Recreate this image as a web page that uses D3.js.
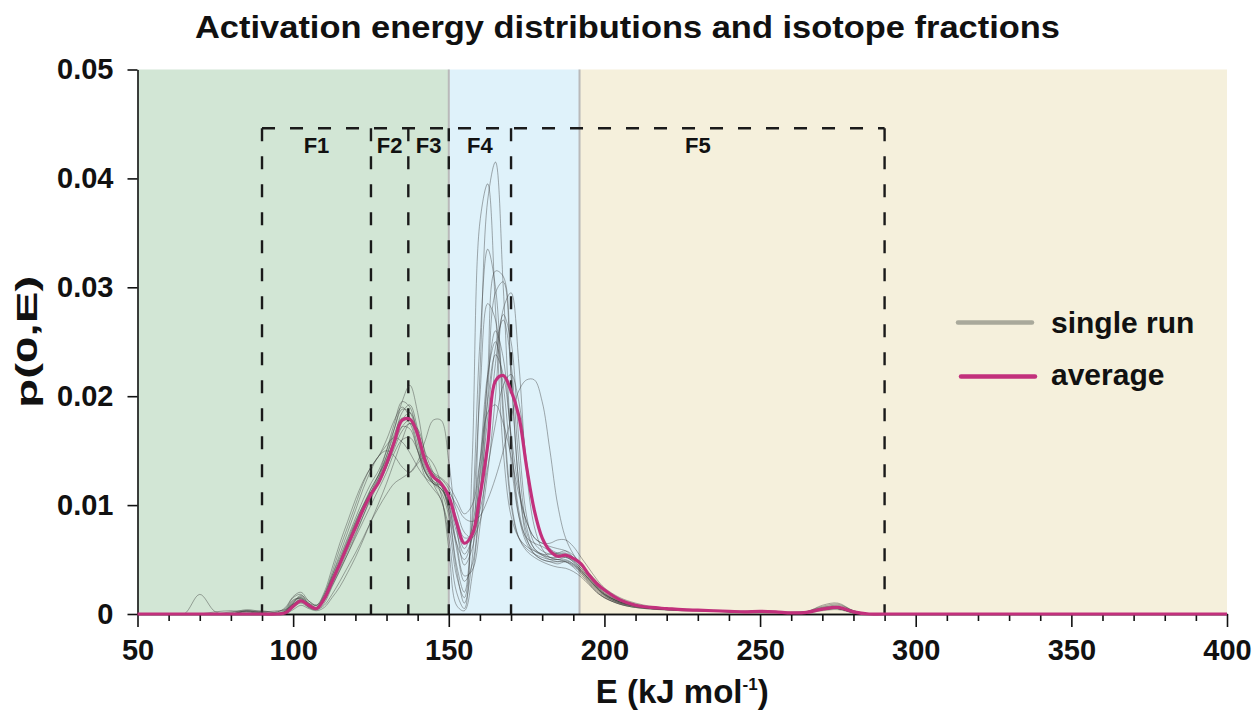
<!DOCTYPE html>
<html lang="en">
<head>
<meta charset="utf-8">
<title>Activation energy distributions and isotope fractions</title>
<script src="https://cdn.jsdelivr.net/npm/d3@7/dist/d3.min.js"></script>
<style>
  body { margin: 0; background: #fff; }
  svg text { font-family: "Liberation Sans", Arial, sans-serif; font-weight: bold; fill: #111; }
  .axis path, .axis line { stroke: #111; stroke-width: 1.6px; }
  .axis text { font-size: 29px; }
  .run { fill: none; stroke: #3a3a3a; stroke-width: 1; stroke-opacity: 0.42; }
  .avg { fill: none; stroke: #c2307c; stroke-width: 3.2; }
  .frac { stroke: #1a1a1a; stroke-width: 2.4; stroke-dasharray: 13 15; fill: none; }
  .border { stroke: #b9b9b9; stroke-width: 2; }
</style>
</head>
<body>
<div id="chart"></div>
<script>
// energy grid (kJ/mol) shared by all curves
var energy = [50, 60, 65, 70, 75, 80, 85, 90,
  95, 97.5, 100, 102.5, 105, 107.5, 110, 112.5, 115, 117.5, 120, 122.5, 125, 127.5, 130, 132.5,
  135, 137.5, 140, 142.5, 145, 147.5, 150, 152.5, 155, 157.5, 160, 162.5, 165, 167.5, 170, 172.5,
  175, 177.5, 180, 182.5, 185, 187.5, 190, 192.5, 195, 197.5, 200,
  205, 210, 215, 220, 225, 230, 235, 240, 245, 250, 255, 260, 265, 270, 275, 280, 285,
  290, 400];

// p(0,E) values in units of 1e-3
var unit = 1e-3;

var average = [0,0,0,0,0,0,0,0,
  0,0.1,0.7,1.2,0.8,0.5,1.4,3.0,4.6,6.3,7.9,9.6,11.0,12.1,13.8,15.8,
  17.8,17.9,16.5,14.0,12.6,12.0,10.8,8.4,6.5,7.3,10.8,15.5,21.4,21.9,20.5,18.2,
  13.5,9.5,7.0,5.8,5.3,5.4,5.1,4.6,3.6,2.8,2.2,
  1.3,0.8,0.6,0.5,0.4,0.35,0.3,0.25,0.2,0.25,0.2,0.1,0.15,0.45,0.6,0.2,0,
  0,0];

var run01 = [0,0,0,0,0,0,0.2,0,
  0.2,0.5,1.5,1.8,0.9,0.6,1.8,3.5,5.2,7.0,8.8,10.5,12.0,13.2,15.0,17.0,
  18.8,18.5,16.0,13.2,12.0,11.2,9.0,4.0,1.0,5.0,22.0,38.0,41.5,30.0,16.0,9.0,
  6.5,5.5,5.0,4.8,4.6,4.8,4.4,3.8,3.0,2.2,1.6,
  1.0,0.7,0.5,0.4,0.35,0.3,0.3,0.2,0.2,0.3,0.2,0.1,0.2,0.6,0.7,0.2,0,
  0,0];
var run02 = [0,0,0,0,0,0,0,0,
  0,0.3,1.2,1.5,0.7,0.5,1.5,3.2,4.8,6.5,8.2,9.8,11.5,12.8,14.5,16.5,
  18.0,17.5,15.0,12.5,11.5,10.5,7.0,2.0,0.5,14.0,36.0,39.5,28.0,15.0,9.0,7.0,
  6.2,5.8,5.5,5.2,5.0,4.8,4.3,3.6,2.8,2.0,1.5,
  0.9,0.6,0.5,0.4,0.3,0.3,0.25,0.2,0.2,0.2,0.15,0.1,0.15,0.5,0.5,0.1,0,
  0,0];
var run03 = [0,0,0,0,0,0.2,0.3,0.1,
  0,0.2,1.0,1.6,1.0,0.6,1.2,2.8,4.5,6.2,8.0,9.5,11.0,12.2,14.0,16.2,
  18.5,19.2,17.0,14.0,12.5,11.8,10.0,6.0,3.0,4.5,11.0,22.0,31.5,31.0,22.0,12.0,
  7.5,6.0,5.5,5.5,5.6,5.8,5.4,4.6,3.6,2.6,1.9,
  1.1,0.8,0.6,0.5,0.4,0.35,0.3,0.25,0.2,0.2,0.2,0.15,0.2,0.4,0.5,0.2,0,
  0,0];
var run04 = [0,0,0,0,0,0,0,0,
  0,0,0.8,1.2,0.6,0.4,1.0,2.5,4.0,5.5,7.2,9.0,10.8,12.5,14.5,17.0,
  19.5,21.0,18.5,14.5,12.0,10.5,8.0,3.5,1.5,8.0,20.0,28.5,27.0,18.0,10.0,7.0,
  6.0,5.5,5.2,5.0,5.0,5.0,4.6,3.8,2.9,2.1,1.5,
  0.9,0.6,0.45,0.4,0.35,0.3,0.25,0.2,0.2,0.25,0.2,0.1,0.1,0.3,0.4,0.1,0,
  0,0];
var run05 = [0,0,0,0,0.2,0.3,0.2,0.3,
  0.1,0.4,1.3,1.4,0.8,0.6,1.6,3.3,5.0,6.8,8.5,10.0,11.2,12.0,13.5,15.5,
  17.2,17.8,16.5,14.0,12.8,12.4,11.5,9.5,7.5,7.0,8.5,13.0,20.0,28.0,29.5,23.0,
  13.0,8.0,6.0,5.2,5.0,5.2,4.9,4.2,3.3,2.5,1.8,
  1.1,0.7,0.55,0.45,0.4,0.35,0.3,0.25,0.2,0.3,0.25,0.1,0.2,0.6,0.8,0.3,0,
  0,0];
var run06 = [0,0,0,0,0,0,0,0,
  0,0.2,0.9,1.2,0.8,0.6,1.3,2.6,4.0,5.5,7.0,8.5,10.0,11.5,13.0,14.8,
  16.0,16.2,15.0,13.0,12.0,11.8,11.2,10.0,8.8,8.5,9.0,10.5,12.5,15.0,18.0,20.5,
  21.5,21.5,19.5,15.0,10.0,7.0,5.5,4.5,3.8,3.0,2.3,
  1.4,0.9,0.6,0.5,0.4,0.35,0.3,0.25,0.25,0.3,0.2,0.15,0.2,0.4,0.5,0.2,0,
  0,0];
var run07 = [0,0,0,0,0,0,0.3,0.1,
  0,0.1,0.8,1.4,0.9,0.5,1.5,3.5,5.5,7.5,9.5,11.5,13.2,14.5,15.0,14.5,
  13.5,13.0,13.8,14.5,13.8,12.0,9.5,6.5,5.0,7.0,12.5,19.5,23.8,22.0,16.5,11.5,
  8.5,7.0,6.5,6.2,6.0,5.8,5.2,4.4,3.5,2.6,1.9,
  1.2,0.8,0.6,0.5,0.4,0.35,0.3,0.25,0.2,0.2,0.2,0.1,0.15,0.5,0.6,0.2,0,
  0,0];
var run08 = [0,0,0,0,0,0,0,0,
  0,0,0.6,1.0,0.6,0.4,0.8,1.8,3.0,4.3,5.6,7.0,8.5,9.8,11.0,12.0,
  12.5,13.0,14.0,16.0,17.8,17.8,14.0,8.0,4.5,6.0,11.0,18.0,24.5,27.0,23.0,14.0,
  8.0,6.0,5.4,5.0,4.8,4.8,4.5,3.9,3.1,2.3,1.7,
  1.0,0.7,0.5,0.45,0.4,0.35,0.3,0.2,0.2,0.25,0.2,0.1,0.15,0.4,0.5,0.15,0,
  0,0];
var run09 = [0,0,0,0,0,0.1,0.4,0.2,
  0,0.3,1.1,1.7,1.2,0.8,1.8,3.8,6.0,8.0,10.0,12.0,13.5,14.5,15.5,16.2,
  15.8,14.8,13.5,12.5,12.0,11.5,10.5,8.0,6.0,8.0,14.0,22.0,25.0,21.0,14.0,9.0,
  7.0,6.5,6.2,5.8,5.5,5.3,4.8,4.0,3.2,2.4,1.8,
  1.1,0.8,0.55,0.45,0.4,0.35,0.3,0.25,0.2,0.25,0.2,0.1,0.2,0.5,0.6,0.2,0,
  0,0];
var run10 = [0,0,0,0,0,0,0,0.2,
  0.2,0.6,1.6,2.0,1.2,0.8,1.5,3.0,4.5,6.0,7.8,9.5,11.2,12.8,15.0,17.5,
  19.5,19.0,16.2,13.5,12.2,11.5,10.0,6.5,3.5,4.0,8.0,15.0,23.0,27.5,25.0,16.0,
  9.0,6.5,5.8,5.5,5.5,5.5,5.0,4.2,3.4,2.5,1.8,
  1.1,0.8,0.6,0.5,0.4,0.35,0.3,0.25,0.2,0.25,0.2,0.15,0.25,0.7,0.9,0.3,0,
  0,0];
var run11 = [0,0,0,0,0,0,0,0,
  0,0.2,0.9,1.3,0.8,0.5,1.3,2.8,4.2,5.8,7.4,9.0,10.6,12.0,13.5,15.2,
  16.8,17.5,16.5,14.2,13.0,12.5,11.8,10.5,9.2,10.0,14.0,18.5,19.2,17.5,14.5,11.0,
  8.5,7.0,6.5,6.5,6.8,6.8,6.2,5.2,4.2,3.2,2.4,
  1.5,1.0,0.7,0.55,0.45,0.4,0.35,0.3,0.25,0.3,0.2,0.15,0.2,0.4,0.5,0.2,0,
  0,0];
var run12 = [0,0,0,0,0,0,0.2,0,
  0,0.1,0.7,1.1,0.7,0.5,1.4,3.0,4.8,6.6,8.4,10.0,11.5,12.8,14.2,16.0,
  17.8,18.5,16.8,14.0,12.8,11.0,6.0,0.8,0.3,3.5,10.0,20.0,29.5,30.5,22.0,12.0,
  7.0,5.5,5.0,4.8,4.8,4.9,4.6,4.0,3.2,2.4,1.7,
  1.0,0.7,0.5,0.4,0.35,0.3,0.25,0.2,0.2,0.2,0.15,0.1,0.15,0.5,0.6,0.15,0,
  0,0];
var run13 = [0,0,0,1.8,0.2,0,0.3,0.2,
  0.3,0.4,0.9,1.2,0.8,0.6,1.6,3.2,4.8,6.5,8.2,9.8,11.2,12.5,14.0,15.8,
  17.2,17.0,15.0,13.0,12.2,11.8,10.8,8.8,7.0,7.2,9.5,13.5,17.5,21.0,22.0,19.5,
  14.0,9.5,7.0,6.0,5.6,5.6,5.2,4.5,3.6,2.7,2.0,
  1.2,0.8,0.6,0.5,0.4,0.35,0.3,0.25,0.2,0.25,0.2,0.1,0.2,0.8,1.0,0.3,0,
  0,0];
var run14 = [0,0,0,0,0,0,0,0,
  0,0.2,1.0,1.5,1.0,0.8,2.0,4.2,6.5,8.5,10.5,12.2,13.5,14.5,16.0,17.8,
  19.0,18.0,15.5,13.0,12.0,11.5,10.2,7.5,5.5,7.0,13.0,21.5,26.0,23.5,16.0,9.5,
  6.8,5.8,5.4,5.2,5.2,5.2,4.8,4.0,3.2,2.4,1.8,
  1.1,0.8,0.55,0.45,0.4,0.35,0.3,0.25,0.2,0.3,0.2,0.1,0.15,0.4,0.5,0.15,0,
  0,0];
var run15 = [0,0,0,0,0,0,0,0,
  0,0,0.4,0.8,0.5,0.3,0.6,1.5,2.5,3.8,5.2,6.8,8.5,10.2,12.0,14.0,
  16.0,17.5,17.0,14.8,13.0,12.0,9.5,4.5,2.0,9.0,25.0,33.5,30.0,19.0,10.5,7.0,
  5.8,5.2,4.8,4.5,4.3,4.2,3.9,3.4,2.7,2.0,1.5,
  0.9,0.6,0.45,0.35,0.3,0.3,0.25,0.2,0.2,0.2,0.15,0.1,0.15,0.4,0.5,0.1,0,
  0,0];

var singleRuns = [run01, run02, run03, run04, run05, run06, run07, run08,
  run09, run10, run11, run12, run13, run14, run15];

// background regions and fraction boxes (E limits)
var regionBounds = [50, 150, 192, 400];
var regionColors = ["#d2e6d5", "#dff2fa", "#f5f0dc"];
var fractionNames = ["F1", "F2", "F3", "F4", "F5"];
var fractionBounds = [90, 125, 137, 150, 170, 290];
var fractionTop = 0.0446;

var majorTicks = [50, 100, 150, 200, 250, 300, 350, 400];
var minorTicks = [60, 70, 80, 90, 110, 120, 130, 140, 160, 170, 180, 190, 210, 220, 230, 240,
  260, 270, 280, 290, 310, 320, 330, 340, 360, 370, 380, 390];
var yTicks = [0, 0.01, 0.02, 0.03, 0.04, 0.05];

var W = 1254, H = 715;
var margin = {top: 69.5, right: 27, bottom: 101, left: 137.5};
var width = W - margin.left - margin.right,
    height = H - margin.top - margin.bottom;

var svg = d3.select("#chart").append("svg")
  .attr("width", W).attr("height", H);

svg.append("defs").append("clipPath").attr("id", "plotclip")
  .append("rect").attr("x", 0).attr("y", 0).attr("width", width).attr("height", height);

var g = svg.append("g")
  .attr("transform", "translate(" + margin.left + "," + margin.top + ")");

var x = d3.scaleLinear().domain([50, 400]).range([0, width]);
var y = d3.scaleLinear().domain([0, 0.05]).range([height, 0]);

// backgrounds
for (var i = 0; i < regionColors.length; i++) {
  g.append("rect")
    .attr("x", x(regionBounds[i]))
    .attr("y", 0)
    .attr("width", x(regionBounds[i + 1]) - x(regionBounds[i]))
    .attr("height", height)
    .attr("fill", regionColors[i]);
}
[regionBounds[1], regionBounds[2]].forEach(function(e) {
  g.append("line").attr("class", "border")
    .attr("x1", x(e)).attr("x2", x(e))
    .attr("y1", 0).attr("y2", height);
});

// fraction boxes
g.append("line").attr("class", "frac")
  .attr("x1", x(fractionBounds[0])).attr("x2", x(fractionBounds[fractionBounds.length - 1]))
  .attr("y1", y(fractionTop)).attr("y2", y(fractionTop));
fractionBounds.forEach(function(e) {
  g.append("line").attr("class", "frac")
    .attr("x1", x(e)).attr("x2", x(e))
    .attr("y1", y(fractionTop)).attr("y2", height);
});
fractionNames.forEach(function(name, i) {
  g.append("text")
    .attr("x", x((fractionBounds[i] + fractionBounds[i + 1]) / 2))
    .attr("y", y(fractionTop) + 25)
    .attr("text-anchor", "middle")
    .style("font-size", "22px")
    .text(name);
});

// curves
var line = d3.line()
  .x(function(d, i) { return x(energy[i]); })
  .y(function(d) { return y(d * unit); })
  .curve(d3.curveCatmullRom.alpha(0.5));

g.append("g").attr("clip-path", "url(#plotclip)")
  .selectAll("path.run").data(singleRuns).enter()
  .append("path").attr("class", "run")
  .attr("d", line);

// axes
var xMinor = d3.axisBottom(x).tickValues(minorTicks).tickSize(7).tickFormat("").tickSizeOuter(0);
g.append("g").attr("class", "axis")
  .attr("transform", "translate(0," + height + ")")
  .call(xMinor);
var xAxis = d3.axisBottom(x).tickValues(majorTicks).tickSize(13).tickSizeOuter(0).tickPadding(12);
g.append("g").attr("class", "axis")
  .attr("transform", "translate(0," + height + ")")
  .call(xAxis);
var yAxis = d3.axisLeft(y).tickValues(yTicks).tickSize(10).tickSizeOuter(0).tickPadding(14)
  .tickFormat(function(d) { return d === 0 ? "0" : d3.format(".2f")(d); });
g.append("g").attr("class", "axis").call(yAxis);

g.append("path").attr("class", "avg")
  .datum(average)
  .attr("d", line);

// titles
svg.append("text")
  .attr("x", 627.5).attr("y", 38)
  .attr("text-anchor", "middle")
  .attr("textLength", 865).attr("lengthAdjust", "spacingAndGlyphs")
  .style("font-size", "32px")
  .text("Activation energy distributions and isotope fractions");

var xl = svg.append("text")
  .attr("x", margin.left + width / 2).attr("y", 703)
  .attr("text-anchor", "middle")
  .style("font-size", "33px");
xl.append("tspan").text("E (kJ mol");
xl.append("tspan").attr("dy", -13).style("font-size", "17px").text("-1");
xl.append("tspan").attr("dy", 13).text(")");

svg.append("text")
  .attr("transform", "translate(37," + (margin.top + height / 2) + ") rotate(-90)")
  .attr("text-anchor", "middle")
  .attr("textLength", 132).attr("lengthAdjust", "spacingAndGlyphs")
  .style("font-size", "29px")
  .text("p(0,E)");

// legend
var legend = svg.append("g");
legend.append("line")
  .attr("x1", 958).attr("x2", 1032).attr("y1", 322.5).attr("y2", 322.5)
  .attr("stroke", "#a9a99b").attr("stroke-width", 4.5).attr("stroke-linecap", "round");
legend.append("text").attr("x", 1051).attr("y", 333)
  .style("font-size", "30px").text("single run");
legend.append("line")
  .attr("x1", 961).attr("x2", 1035).attr("y1", 376.5).attr("y2", 376.5)
  .attr("stroke", "#c2307c").attr("stroke-width", 4.5).attr("stroke-linecap", "round");
legend.append("text").attr("x", 1051).attr("y", 385)
  .style("font-size", "30px").text("average");
</script>
</body>
</html>
